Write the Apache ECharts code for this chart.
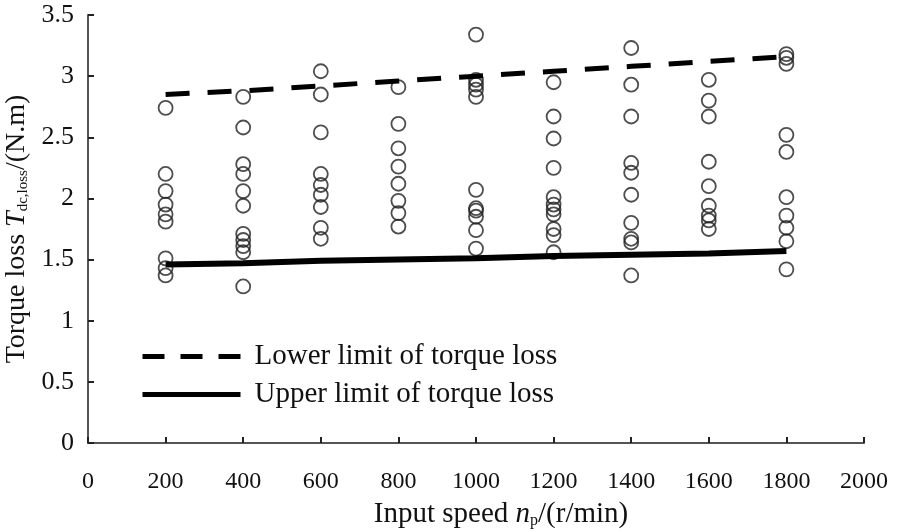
<!DOCTYPE html>
<html>
<head>
<meta charset="utf-8">
<script src="https://cdn.jsdelivr.net/npm/echarts@6/dist/echarts.min.js"></script>
<style>html,body{margin:0;padding:0;background:#fff}#c{width:898px;height:531px}</style>
</head>
<body>
<div id="c"></div>
<script>
// Input speeds (r/min)
var speeds = [200, 400, 600, 800, 1000, 1200, 1400, 1600, 1800];
// Measured torque loss (N.m) at each speed
var torque200 = [2.74, 2.20, 2.06, 1.95, 1.87, 1.81, 1.51, 1.43, 1.37];
var torque400 = [2.83, 2.58, 2.28, 2.20, 2.06, 1.94, 1.71, 1.66, 1.61, 1.56, 1.28];
var torque600 = [3.04, 2.85, 2.54, 2.20, 2.11, 2.03, 1.93, 1.76, 1.67];
var torque800 = [2.91, 2.61, 2.41, 2.26, 2.12, 1.98, 1.88, 1.77];
var torque1000 = [3.34, 2.97, 2.93, 2.89, 2.83, 2.07, 1.92, 1.90, 1.85, 1.74, 1.59];
var torque1200 = [2.95, 2.67, 2.49, 2.25, 2.01, 1.95, 1.91, 1.87, 1.75, 1.70, 1.56];
var torque1400 = [3.23, 2.93, 2.67, 2.29, 2.21, 2.03, 1.80, 1.67, 1.64, 1.37];
var torque1600 = [2.97, 2.80, 2.67, 2.30, 2.10, 1.94, 1.86, 1.82, 1.75];
var torque1800 = [3.18, 3.15, 3.10, 2.52, 2.38, 2.01, 1.86, 1.76, 1.65, 1.42];
// Limit curves
var lowerLimit = [2.85, 2.88, 2.92, 2.96, 3.00, 3.04, 3.08, 3.12, 3.16];
var upperLimit = [1.46, 1.47, 1.49, 1.50, 1.51, 1.53, 1.54, 1.55, 1.57];
var lowerName = 'Lower limit of torque loss';
var upperName = 'Upper limit of torque loss';

var measured = [torque200, torque400, torque600, torque800, torque1000, torque1200, torque1400, torque1600, torque1800];
var scatterData = [];
measured.forEach(function (arr, i) {
  arr.forEach(function (v) { scatterData.push([speeds[i], v]); });
});
function pairs(vals) { return vals.map(function (v, i) { return [speeds[i], v]; }); }

var FONT = '"Liberation Serif", "Times New Roman", serif';
var hideSym = {color: 'rgba(0,0,0,0)', borderWidth: 0, opacity: 0};
var chart = echarts.init(document.getElementById('c'), null, {renderer: 'canvas'});
chart.setOption({
  backgroundColor: '#fff',
  animation: false,
  grid: {left: 88, top: 15, width: 776, height: 428, containLabel: false, outerBoundsMode: 'none'},
  legend: {
    orient: 'vertical', left: 140, top: 342, padding: 0,
    itemWidth: 98, itemHeight: 14, itemGap: 9,
    data: [
      {name: lowerName, itemStyle: hideSym, lineStyle: {color: '#000', width: 5, type: [22, 16]}},
      {name: upperName, itemStyle: hideSym, lineStyle: {color: '#000', width: 5, type: 'solid'}}
    ],
    textStyle: {fontFamily: FONT, fontSize: 29, color: '#111', lineHeight: 28, padding: [0, 0, 0, 9]}
  },
  xAxis: {
    type: 'value', min: 0, max: 2000, interval: 200,
    axisLine: {lineStyle: {color: '#555', width: 2}},
    axisTick: {inside: true, length: 6, lineStyle: {color: '#222', width: 2}},
    axisLabel: {fontFamily: FONT, fontSize: 24, color: '#111', margin: 27,
      formatter: function (v) { return String(v); }},
    splitLine: {show: false},
    name: '{r|Input speed }{i|n}{s|p}{r|/(r/min)}',
    nameLocation: 'middle', nameGap: 57,
    nameTextStyle: {
      padding: [0, 0, 0, 50],
      rich: {
        r: {fontFamily: FONT, fontSize: 29, color: '#111'},
        i: {fontFamily: FONT, fontSize: 29, fontStyle: 'italic', color: '#111'},
        s: {fontFamily: FONT, fontSize: 16, color: '#111', padding: [12, 0, 0, 0]}
      }
    }
  },
  yAxis: {
    type: 'value', min: 0, max: 3.5, interval: 0.5,
    axisLine: {lineStyle: {color: '#555', width: 2}},
    axisTick: {inside: true, length: 6, lineStyle: {color: '#222', width: 2}},
    axisLabel: {fontFamily: FONT, fontSize: 26, color: '#111', margin: 14,
      formatter: function (v) { return String(v); }},
    splitLine: {show: false},
    name: '{r|Torque loss }{i|T}{s|dc,loss}{r|/(N.m)}',
    nameLocation: 'middle', nameGap: 52, nameRotate: 90,
    nameTextStyle: {
      rich: {
        r: {fontFamily: FONT, fontSize: 28, color: '#111'},
        i: {fontFamily: FONT, fontSize: 28, fontStyle: 'italic', color: '#111'},
        s: {fontFamily: FONT, fontSize: 15, color: '#111', padding: [12, 0, 0, 0]}
      }
    }
  },
  series: [
    {
      type: 'scatter', name: 'Measured', data: scatterData,
      symbol: 'circle', symbolSize: 14,
      itemStyle: {color: 'rgba(0,0,0,0)', borderColor: '#222', borderWidth: 1.8},
      z: 2
    },
    {
      type: 'line', name: lowerName, data: pairs(lowerLimit),
      symbol: 'none', showSymbol: false,
      lineStyle: {color: '#000', width: 5, type: [24, 18]},
      itemStyle: {color: '#000'},
      z: 3
    },
    {
      type: 'line', name: upperName, data: pairs(upperLimit),
      symbol: 'none', showSymbol: false,
      lineStyle: {color: '#000', width: 6, type: 'solid'},
      itemStyle: {color: '#000'},
      z: 3
    }
  ]
});
</script>
</body>
</html>
